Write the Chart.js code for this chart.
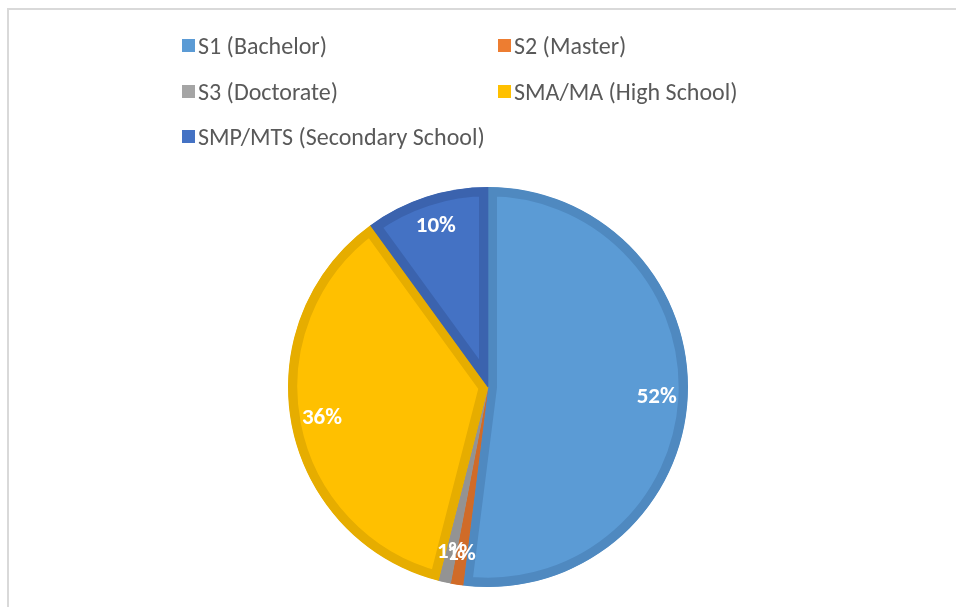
<!DOCTYPE html>
<html>
<head>
<meta charset="utf-8">
<script src="https://cdn.jsdelivr.net/npm/chart.js@4/dist/chart.umd.min.js"></script>
<style>
    html, body { margin: 0; padding: 0; background: #fff; }
    body { width: 956px; height: 607px; position: relative; overflow: hidden; font-family: Carlito, Calibri, Lato, sans-serif; }
    .frame { position: absolute; left: 7px; top: 8px; width: 1000px; height: 700px; border-top: 2px solid #d9d9d9; border-left: 2px solid #d9d9d9; }
    #chartWrap { position: absolute; left: 0; top: 0; width: 956px; height: 607px; }
    .legend { position: absolute; left: 182px; top: 31px; width: 620px; }
    .legend-item { position: absolute; display: flex; align-items: center; font-size: 24px; color: #595959; white-space: nowrap; }
    .legend-box { width: 13px; height: 13px; margin-right: 3px; }
</style>
</head>
<body>
<div class="frame"></div>
<div id="chartWrap"><canvas id="pieChart"></canvas></div>
<div class="legend" id="legend"></div>

<script>
// data
const labels = ['S1 (Bachelor)', 'S2 (Master)', 'S3 (Doctorate)', 'SMA/MA (High School)', 'SMP/MTS (Secondary School)'];
const values = [52, 1, 1, 36, 10];
const fillColors = ['#5b9bd5', '#ed7d31', '#a5a5a5', '#ffc000', '#4472c4'];
const edgeColors = ['#4f89c0', '#d06b28', '#939393', '#e6ad00', '#3b63ae'];

// html legend, two columns like the original
const legendEl = document.getElementById('legend');
labels.forEach((lab, i) => {
    const col = i % 2, row = Math.floor(i / 2);
    const item = document.createElement('div');
    item.className = 'legend-item';
    item.style.left = (col * 316) + 'px';
    item.style.top = (row * 45.5) + 'px';
    item.innerHTML = `<span class="legend-box" style="background:${fillColors[i]}"></span><span>${lab}</span>`;
    legendEl.appendChild(item);
});

// percentage labels inside slices
const pctLabels = {
    id: 'pctLabels',
    afterDatasetsDraw(chart) {
        const ctx = chart.ctx;
        const meta = chart.getDatasetMeta(0);
        const total = values.reduce((a, b) => a + b, 0);
        ctx.save();
        ctx.fillStyle = '#ffffff';
        ctx.font = 'bold 23px Carlito, Calibri, Lato, sans-serif';
        ctx.textAlign = 'center';
        ctx.textBaseline = 'middle';
        meta.data.forEach((arc, i) => {
            const p = arc.getProps(['x', 'y', 'startAngle', 'endAngle', 'outerRadius'], true);
            const mid = (p.startAngle + p.endAngle) / 2;
            const r = p.outerRadius * 0.845;
            ctx.fillText(Math.round(values[i] / total * 100) + '%', p.x + Math.cos(mid) * r, p.y + Math.sin(mid) * r);
        });
        ctx.restore();
    }
};

new Chart(document.getElementById('pieChart'), {
    type: 'pie',
    data: {
        labels: labels,
        datasets: [{
            data: values,
            backgroundColor: fillColors,
            borderColor: edgeColors,
            borderWidth: 9,
            borderAlign: 'inner'
        }]
    },
    options: {
        responsive: true,
        maintainAspectRatio: false,
        animation: false,
        layout: { padding: { left: 20, right: 0, top: 187, bottom: 20 } },
        plugins: { legend: { display: false }, tooltip: { enabled: false } }
    },
    plugins: [pctLabels]
});
</script>
</body>
</html>
